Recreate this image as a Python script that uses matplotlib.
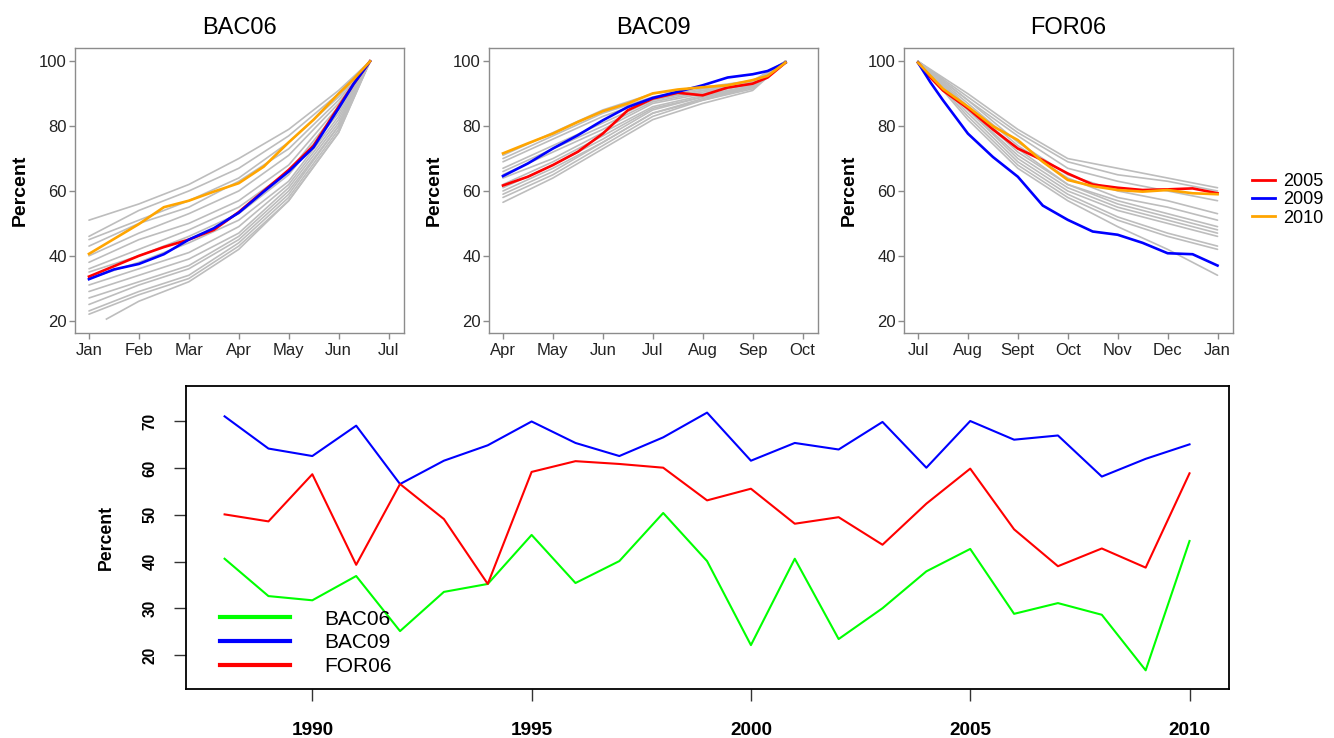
# -*- coding: utf-8 -*-

"""
Seasonal cumulative percent curves (BAC06, BAC09, FOR06) and yearly summary.
"""

import matplotlib
matplotlib.use("Agg")
import matplotlib.pyplot as plt
from matplotlib.lines import Line2D

import numpy as np


""" data: top panels (x in months from the first tick) """

# BAC06 (Jan -> Jul)
bac06_ticks = ["Jan", "Feb", "Mar", "Apr", "May", "Jun", "Jul"]
bac06_gray_x = [0, 1, 2, 3, 4, 5, 5.63]
bac06_gray = [
    [51, 56, 62, 70, 79, 91, 100],
    [46, 54, 60, 67, 77, 90, 100],
    [45, 51, 57, 64, 75, 89, 100],
    [43, 50, 55, 63, 73, 88, 100],
    [40, 47, 53, 60, 71, 87, 100],
    [38, 45, 50, 57, 68, 86, 100],
    [36, 42, 48, 55, 66, 85, 100],
    [35, 40, 46, 53, 65, 84, 100],
    [33, 38, 44, 51, 63, 83, 100],
    [31, 36, 41, 49, 62, 82, 100],
    [29, 34, 39, 47, 61, 81, 100],
    [27, 32, 37, 46, 60, 80, 100],
    [25, 31, 36, 45, 59, 80, 100],
    [23, 29, 34, 44, 58, 79, 100],
    [22, 28, 33, 43, 57, 78, 100],
]
bac06_late_x = [0.35, 1, 2, 3, 4, 5, 5.63]
bac06_late = [20.5, 26, 32, 42, 57, 78, 100]
bac06_hl_x = [0, 0.5, 1, 1.5, 2, 2.5, 3, 3.5, 4, 4.5, 5, 5.3, 5.63]
bac06_2005 = [33.6, 36.8, 40.0, 42.7, 45.0, 48.0, 53.5, 60.0, 66.5, 74.0, 86.0, 93.0, 100]
bac06_2009 = [32.8, 35.8, 37.5, 40.5, 45.0, 48.5, 53.3, 59.8, 66.0, 73.5, 85.5, 93.0, 100]
bac06_2010 = [40.6, 45.2, 49.8, 55.0, 57.0, 59.8, 62.4, 67.5, 75.0, 82.0, 90.0, 94.5, 100]

# BAC09 (Apr -> Oct)
bac09_ticks = ["Apr", "May", "Jun", "Jul", "Aug", "Sep", "Oct"]
bac09_gray_x = [0, 1, 2, 3, 4, 5, 5.66]
bac09_gray = [
    [71, 78, 85, 90, 92, 94, 100],
    [70, 77, 84, 89, 91.5, 93.5, 100],
    [69, 76, 83, 88.5, 91, 93.5, 100],
    [67, 74, 81, 88, 91, 93, 100],
    [66, 73, 80, 87.5, 90.5, 93, 100],
    [65, 72, 79, 87, 90, 93, 100],
    [64, 70, 78, 86, 89.5, 92.5, 100],
    [62, 69, 77, 85.5, 89, 92.5, 100],
    [61, 68, 76, 85, 89, 92, 100],
    [60, 67, 75, 84, 88.5, 92, 100],
    [59, 66, 75, 84, 88, 92, 100],
    [58, 65, 74, 83, 88, 91.5, 100],
    [56.5, 64, 73, 82, 87, 91, 100],
]
bac09_hl_x = [0, 0.5, 1, 1.5, 2, 2.5, 3, 3.5, 4, 4.5, 5, 5.3, 5.66]
bac09_2005 = [61.7, 64.4, 68.0, 72.1, 77.7, 84.9, 88.5, 90.3, 89.5, 91.9, 93.1, 95.0, 99.6]
bac09_2009 = [64.6, 68.5, 73.1, 77.2, 81.8, 85.9, 88.7, 90.6, 92.6, 95.0, 96.0, 97.0, 99.6]
bac09_2010 = [71.6, 74.7, 77.7, 81.3, 84.6, 87.0, 90.1, 91.3, 92.0, 92.6, 94.2, 95.5, 99.6]

# FOR06 (Jul -> Jan)
for06_ticks = ["Jul", "Aug", "Sept", "Oct", "Nov", "Dec", "Jan"]
for06_gray_x = [0, 1, 2, 3, 4, 5, 6]
for06_gray = [
    [100, 90, 79, 70, 67, 64, 61],
    [100, 89, 78, 69, 65, 63, 60],
    [100, 88, 77, 67, 63, 60, 57],
    [100, 88, 75, 65, 60, 57, 53],
    [100, 87, 74, 64, 58, 55, 51],
    [100, 86, 73, 62, 57, 53, 49],
    [100, 86, 72, 62, 56, 52, 48],
    [100, 85, 71, 61, 55, 51, 47],
    [100, 85, 70, 60, 54, 50, 46],
    [100, 84, 69, 59, 52, 47, 43],
    [100, 83, 68, 58, 51, 46, 42],
    [100, 82, 67, 57, 49, 42, 34],
]
for06_hl_x = [0, 0.25, 0.5, 1, 1.5, 2, 2.5, 3, 3.5, 4, 4.5, 5, 5.5, 6]
for06_2005 = [99.6, 95.0, 91.0, 85.5, 79.0, 73.1, 69.5, 65.4, 62.0, 61.0, 60.3, 60.5, 60.8, 59.3]
for06_2009 = [99.6, 93.5, 88.0, 77.7, 70.5, 64.4, 55.5, 51.1, 47.5, 46.5, 44.0, 40.8, 40.5, 37.0]
for06_2010 = [99.6, 95.5, 91.5, 86.0, 80.0, 75.7, 69.0, 63.4, 61.5, 60.3, 59.8, 60.3, 59.3, 59.0]

hl_years = ["2005", "2009", "2010"]
hl_colors = ["#ff0000", "#0000ff", "#ffa500"]

""" data: bottom panel """

years = np.arange(1988, 2011)
pct_bac06 = [40.6, 32.6, 31.7, 36.9, 25.1, 33.5, 35.2, 45.7, 35.4, 40.1, 50.4, 40.1,
             22.1, 40.6, 23.4, 30.0, 37.9, 42.7, 28.8, 31.1, 28.6, 16.7, 44.4]
pct_bac09 = [71.1, 64.2, 62.6, 69.1, 56.6, 61.6, 64.9, 70.0, 65.4, 62.6, 66.6, 71.9,
             61.6, 65.4, 64.0, 69.9, 60.1, 70.1, 66.1, 67.0, 58.2, 62.0, 65.1]
pct_for06 = [50.1, 48.6, 58.7, 39.3, 56.6, 49.1, 35.2, 59.2, 61.5, 60.9, 60.1, 53.1,
             55.6, 48.1, 49.5, 43.6, 52.4, 59.9, 46.9, 39.0, 42.8, 38.7, 58.9]


W, H = 1334, 738


def _px_axes(fig, x0, y0, x1, y1):
    """ axes from pixel box (top-left origin) """
    return fig.add_axes([x0 / W, 1 - y1 / H, (x1 - x0) / W, (y1 - y0) / H])


def _top_panel(fig, box, title, ticks, gray_x, gray, hl_x, hl, extra=None):

    ax = _px_axes(fig, *box)

    for g in gray:
        ax.plot(gray_x, g, color="#bdbdbd", lw=1.2, solid_capstyle="round")
    if extra is not None:
        ax.plot(extra[0], extra[1], color="#bdbdbd", lw=1.2)

    for vals, c in zip(hl, hl_colors):
        ax.plot(hl_x, vals, color=c, lw=1.9)

    ax.set_xlim(-0.28, 6.31)
    ax.set_ylim(16.2, 104.1)
    ax.set_xticks(range(7))
    ax.set_xticklabels(ticks)
    ax.set_yticks([20, 40, 60, 80, 100])

    for s in ax.spines.values():
        s.set_color("#8c8c8c")
        s.set_linewidth(1.0)
    ax.tick_params(axis="both", direction="out", length=4.5, width=1.0,
                   color="#8c8c8c", labelcolor="#222222", labelsize=12)
    ax.tick_params(axis="x", pad=3)
    ax.tick_params(axis="y", pad=1.5)

    ax.set_title(title, fontsize=17, pad=10)
    ax.set_ylabel("Percent", fontsize=14, fontweight="bold", labelpad=7)

    return ax


def graphic_percent():

    fig = plt.figure(figsize=(W / 100, H / 100), dpi=100, facecolor="white")

    _top_panel(fig, (75, 48, 404, 333), "BAC06", bac06_ticks,
               bac06_gray_x, bac06_gray, bac06_hl_x,
               [bac06_2005, bac06_2009, bac06_2010],
               extra=(bac06_late_x, bac06_late))
    _top_panel(fig, (489, 48, 818, 333), "BAC09", bac09_ticks,
               bac09_gray_x, bac09_gray, bac09_hl_x,
               [bac09_2005, bac09_2009, bac09_2010])
    _top_panel(fig, (904, 48, 1233, 333), "FOR06", for06_ticks,
               for06_gray_x, for06_gray, for06_hl_x,
               [for06_2005, for06_2009, for06_2010])

    # year legend (outside right panel)
    handles = [Line2D([], [], color=c, lw=2) for c in hl_colors]
    fig.legend(handles, hl_years, loc="upper left",
               bbox_to_anchor=(1252 / W, 1 - 173 / H), frameon=False,
               fontsize=13, handlelength=1.25, handletextpad=0.45,
               labelspacing=0.07, borderpad=0, borderaxespad=0)

    """ bottom panel """
    ax = _px_axes(fig, 186, 386, 1229, 689)
    ax.plot(years, pct_bac06, color="#00ff00", lw=1.5, label="BAC06")
    ax.plot(years, pct_bac09, color="#0000ff", lw=1.5, label="BAC09")
    ax.plot(years, pct_for06, color="#ff0000", lw=1.5, label="FOR06")

    ax.set_xlim(1987.12, 2010.9)
    ax.set_ylim(12.7, 77.6)
    ax.set_xticks([1990, 1995, 2000, 2005, 2010])
    ax.set_yticks([20, 30, 40, 50, 60, 70])

    for s in ax.spines.values():
        s.set_color("black")
        s.set_linewidth(1.3)
    ax.tick_params(axis="both", direction="out", length=8.5, width=1.0,
                   color="#333333")
    ax.tick_params(axis="x", labelsize=13.7, pad=15)
    ax.tick_params(axis="y", labelsize=11.2, pad=12, labelrotation=90)
    for lab in ax.get_xticklabels() + ax.get_yticklabels():
        lab.set_fontweight("bold")
    for lab in ax.get_yticklabels():
        lab.set_verticalalignment("center")

    ax.set_ylabel("Percent", fontsize=12.7, fontweight="bold", labelpad=20)

    leg = ax.legend(loc="upper left", bbox_to_anchor=(0.033, 0.262),
                    frameon=False, fontsize=15, handlelength=3.35,
                    handletextpad=1.65, labelspacing=0.23,
                    borderpad=0, borderaxespad=0)
    for h in leg.get_lines():
        h.set_linewidth(3)

    fig.savefig("out.png", dpi=100, facecolor="white")


if __name__ == "__main__":

    plt.rcParams["font.family"] = ["Liberation Sans", "DejaVu Sans"]

    graphic_percent()
